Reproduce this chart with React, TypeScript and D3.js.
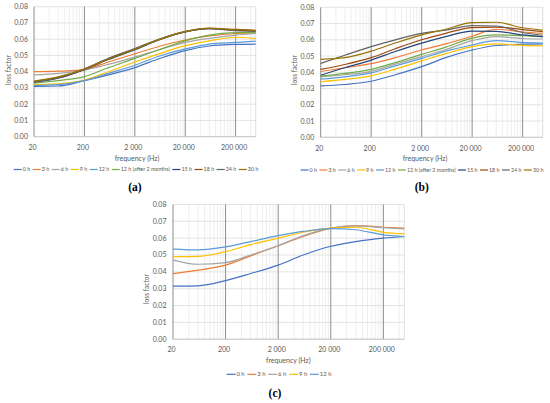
import React, { useEffect, useRef } from 'react';
import * as d3 from 'd3';

const FREQ = [20, 60, 200, 600, 2000, 6000, 20000, 60000, 200000, 500000];

const LABELS_AB = ['0 h', '3 h', '6 h', '9 h', '12 h', '12 h (after 2 months)', '15 h', '18 h', '24 h', '30 h'];
const LABELS_C = ['0 h', '3 h', '6 h', '9 h', '12 h'];
const COLORS = ['#4472C4', '#ED7D31', '#A5A5A5', '#FFC000', '#5B9BD5', '#70AD47', '#264478', '#9E480E', '#636363', '#997300'];

const X_TICKS = [20, 200, 2000, 20000, 200000];
const Y_TICKS = [0, 0.01, 0.02, 0.03, 0.04, 0.05, 0.06, 0.07, 0.08];

// panel (a)
const A_0h = [0.031, 0.0312, 0.0345, 0.038, 0.0425, 0.048, 0.053, 0.0558, 0.0568, 0.057];
const A_3h = [0.040, 0.0403, 0.0413, 0.046, 0.051, 0.0555, 0.0595, 0.062, 0.0635, 0.0638];
const A_6h = [0.038, 0.039, 0.041, 0.0445, 0.049, 0.0535, 0.058, 0.0605, 0.0625, 0.0635];
const A_9h = [0.032, 0.0325, 0.0348, 0.040, 0.046, 0.051, 0.056, 0.059, 0.0612, 0.0603];
const A_12h = [0.0315, 0.032, 0.0345, 0.039, 0.044, 0.0495, 0.054, 0.057, 0.058, 0.0588];
const A_12h2m = [0.033, 0.0345, 0.037, 0.0425, 0.0482, 0.0535, 0.059, 0.0625, 0.064, 0.0642];
const A_15h = [0.0335, 0.036, 0.0413, 0.0475, 0.0535, 0.0595, 0.0645, 0.0665, 0.0655, 0.065];
const A_18h = [0.034, 0.0365, 0.0415, 0.048, 0.054, 0.0598, 0.0648, 0.0667, 0.066, 0.0655];
const A_24h = [0.0338, 0.0362, 0.0418, 0.0482, 0.0542, 0.060, 0.0645, 0.0665, 0.0652, 0.0648];
const A_30h = [0.0342, 0.0368, 0.0416, 0.0478, 0.0538, 0.0597, 0.0647, 0.0668, 0.0658, 0.0653];

// panel (b)
const B_0h = [0.0316, 0.0325, 0.0345, 0.0385, 0.0435, 0.049, 0.0537, 0.0565, 0.0573, 0.0575];
const B_3h = [0.0405, 0.0428, 0.0453, 0.049, 0.0537, 0.0575, 0.0622, 0.0665, 0.0648, 0.064];
const B_6h = [0.0372, 0.0385, 0.0406, 0.045, 0.0496, 0.054, 0.0595, 0.062, 0.0608, 0.0605];
const B_9h = [0.0342, 0.0356, 0.0378, 0.042, 0.047, 0.0515, 0.0558, 0.0575, 0.0566, 0.0563];
const B_12h = [0.0358, 0.0372, 0.0396, 0.044, 0.0486, 0.053, 0.0568, 0.0595, 0.0584, 0.058];
const B_12h2m = [0.0376, 0.0393, 0.0418, 0.046, 0.051, 0.0555, 0.061, 0.063, 0.0625, 0.062];
const B_15h = [0.0382, 0.0428, 0.0475, 0.0528, 0.058, 0.062, 0.0654, 0.0652, 0.063, 0.062];
const B_18h = [0.0418, 0.0448, 0.049, 0.0545, 0.060, 0.064, 0.0675, 0.0678, 0.0663, 0.065];
const B_24h = [0.0455, 0.0505, 0.0558, 0.060, 0.064, 0.066, 0.0687, 0.0685, 0.0645, 0.0628];
const B_30h = [0.048, 0.049, 0.053, 0.058, 0.063, 0.0665, 0.0706, 0.0708, 0.0674, 0.066];

// panel (c)
const C_0h = [0.0315, 0.0317, 0.0348, 0.039, 0.044, 0.050, 0.0552, 0.058, 0.060, 0.061];
const C_3h = [0.039, 0.041, 0.044, 0.0495, 0.0555, 0.061, 0.066, 0.0675, 0.0665, 0.066];
const C_6h = [0.047, 0.0445, 0.0455, 0.050, 0.0555, 0.0615, 0.066, 0.0673, 0.0662, 0.0655];
const C_9h = [0.049, 0.0492, 0.052, 0.0562, 0.060, 0.0635, 0.066, 0.0665, 0.0635, 0.0625];
const C_12h = [0.0535, 0.053, 0.0548, 0.058, 0.0615, 0.064, 0.0657, 0.065, 0.062, 0.061];

const SERIES_A = [A_0h, A_3h, A_6h, A_9h, A_12h, A_12h2m, A_15h, A_18h, A_24h, A_30h];
const SERIES_B = [B_0h, B_3h, B_6h, B_9h, B_12h, B_12h2m, B_15h, B_18h, B_24h, B_30h];
const SERIES_C = [C_0h, C_3h, C_6h, C_9h, C_12h];

interface Panel {
  series: number[][];
  labels: string[];
  caption: string;
  left: number; right: number; top: number; bottom: number;
  yTickX: number; yTitleX: number; yTitleY: number;
  xTickY: number; xTitleX: number; xTitleY: number;
  legendX: number; legendY: number; legendW: number;
  captionX: number; captionY: number;
}

const PANELS: Panel[] = [
  {
    series: SERIES_A, labels: LABELS_AB, caption: '(a)',
    left: 34, right: 255.7, top: 6.7, bottom: 136.7,
    yTickX: 28, yTitleX: 8.5, yTitleY: 70,
    xTickY: 147.7, xTitleX: 137, xTitleY: 158.3,
    legendX: 136, legendY: 169.5, legendW: 244,
    captionX: 135, captionY: 186.5,
  },
  {
    series: SERIES_B, labels: LABELS_AB, caption: '(b)',
    left: 320.7, right: 542.7, top: 7.3, bottom: 137.3,
    yTickX: 314.3, yTitleX: 294.5, yTitleY: 70,
    xTickY: 148.3, xTitleX: 425, xTitleY: 158.8,
    legendX: 422, legendY: 170, legendW: 242,
    captionX: 421.7, captionY: 186.5,
  },
  {
    series: SERIES_C, labels: LABELS_C, caption: '(c)',
    left: 173, right: 404.3, top: 204.5, bottom: 339.2,
    yTickX: 166.5, yTitleX: 146.5, yTitleY: 289,
    xTickY: 350, xTitleX: 288.3, xTitleY: 360.5,
    legendX: 279, legendY: 374.3, legendW: 105,
    captionX: 275, captionY: 393,
  },
];

const FONT = 'Lato, "Open Sans", sans-serif';

const App: React.FC = () => {
  const ref = useRef<SVGSVGElement | null>(null);

  useEffect(() => {
    if (!ref.current) return;
    const svg = d3.select(ref.current);
    svg.selectAll('*').remove();

    const fmtX = (v: number) => d3.format(',')(v).replace(/,/g, ' ');
    const fmtY = d3.format('.2f');

    PANELS.forEach((p) => {
      const g = svg.append('g');
      const x = d3.scaleLog().domain([20, 500000]).range([p.left, p.right]);
      const y = d3.scaleLinear().domain([0, 0.08]).range([p.bottom, p.top]);

      // horizontal gridlines
      g.selectAll('line.hgrid')
        .data(Y_TICKS)
        .enter()
        .append('line')
        .attr('x1', p.left).attr('x2', p.right)
        .attr('y1', (d) => y(d)).attr('y2', (d) => y(d))
        .attr('stroke', '#d9d9d9')
        .attr('stroke-width', 0.7);

      // minor vertical gridlines (2..9 x each major)
      const minors: number[] = [];
      X_TICKS.forEach((m) => {
        for (let k = 2; k <= 9; k++) {
          if (m * k < 500000) minors.push(m * k);
        }
      });
      g.selectAll('line.minor')
        .data(minors)
        .enter()
        .append('line')
        .attr('x1', (d) => x(d)).attr('x2', (d) => x(d))
        .attr('y1', p.top).attr('y2', p.bottom)
        .attr('stroke', '#e3e3e3')
        .attr('stroke-width', 0.6);

      // right border
      g.append('line')
        .attr('x1', p.right).attr('x2', p.right)
        .attr('y1', p.top).attr('y2', p.bottom)
        .attr('stroke', '#d0d0d0')
        .attr('stroke-width', 0.7);

      // major vertical gridlines
      g.selectAll('line.major')
        .data(X_TICKS)
        .enter()
        .append('line')
        .attr('x1', (d) => x(d)).attr('x2', (d) => x(d))
        .attr('y1', p.top).attr('y2', p.bottom)
        .attr('stroke', '#8c8c8c')
        .attr('stroke-width', 1);

      // bottom axis line
      g.append('line')
        .attr('x1', p.left).attr('x2', p.right)
        .attr('y1', p.bottom).attr('y2', p.bottom)
        .attr('stroke', '#bfbfbf')
        .attr('stroke-width', 0.8);

      // series
      const line = d3.line<number>()
        .x((_, i) => x(FREQ[i]))
        .y((d) => y(d))
        .curve(d3.curveMonotoneX);

      p.series.forEach((s, i) => {
        g.append('path')
          .attr('d', line(s) as string)
          .attr('fill', 'none')
          .attr('stroke', COLORS[i])
          .attr('stroke-width', 1.2);
      });

      // y tick labels
      g.selectAll('text.ytick')
        .data(Y_TICKS)
        .enter()
        .append('text')
        .attr('x', p.yTickX)
        .attr('y', (d) => y(d))
        .attr('dy', '0.35em')
        .attr('text-anchor', 'end')
        .attr('font-family', FONT)
        .attr('font-size', 7)
        .attr('fill', '#595959')
        .text((d) => fmtY(d));

      // x tick labels
      g.selectAll('text.xtick')
        .data(X_TICKS)
        .enter()
        .append('text')
        .attr('x', (d) => x(d) - 1.5)
        .attr('y', p.xTickY)
        .attr('dy', '0.35em')
        .attr('text-anchor', 'middle')
        .attr('font-family', FONT)
        .attr('font-size', 7)
        .attr('fill', '#595959')
        .text((d) => fmtX(d));

      // axis titles
      g.append('text')
        .attr('x', p.xTitleX)
        .attr('y', p.xTitleY)
        .attr('dy', '0.35em')
        .attr('text-anchor', 'middle')
        .attr('font-family', FONT)
        .attr('font-size', 7)
        .attr('fill', '#595959')
        .text('frequency (Hz)');

      g.append('text')
        .attr('transform', `translate(${p.yTitleX}, ${p.yTitleY}) rotate(-90)`)
        .attr('dy', '0.35em')
        .attr('text-anchor', 'middle')
        .attr('font-family', FONT)
        .attr('font-size', 6.6)
        .attr('fill', '#595959')
        .text('loss factor');

      // legend: lay out once at a reference size, then rescale the font to the target width
      const legend = g.append('g');
      const layout = (fs: number) => {
        legend.selectAll('*').remove();
        const marker = fs * 1.5;
        const gap = fs * 0.45;
        let cursor = 0;
        p.labels.forEach((label, i) => {
          const row = legend.append('g').attr('transform', `translate(${cursor}, ${p.legendY})`);
          row.append('line')
            .attr('x1', 0).attr('x2', marker)
            .attr('y1', 0).attr('y2', 0)
            .attr('stroke', COLORS[i])
            .attr('stroke-width', 1.2);
          const t = row.append('text')
            .attr('x', marker + 1)
            .attr('dy', '0.35em')
            .attr('font-family', FONT)
            .attr('font-size', fs)
            .attr('fill', '#595959')
            .text(label);
          const w = (t.node() as SVGTextElement).getComputedTextLength();
          cursor += marker + 1 + w + gap;
        });
        return cursor - gap;
      };
      const base = 6;
      const w0 = layout(base);
      const fs = Math.min(7, base * (p.legendW / w0));
      const total = layout(fs);
      legend.attr('transform', `translate(${p.legendX - total / 2}, 0)`);

      // caption
      g.append('text')
        .attr('x', p.captionX)
        .attr('y', p.captionY)
        .attr('dy', '0.35em')
        .attr('text-anchor', 'middle')
        .attr('font-family', '"Liberation Serif", "DejaVu Serif", serif')
        .attr('font-weight', 'bold')
        .attr('font-size', 11.5)
        .attr('fill', '#000')
        .text(p.caption);
    });

    return () => {
      svg.selectAll('*').remove();
    };
  }, []);

  return (
    <div style={{ position: 'absolute', left: 0, top: 0, width: 550, height: 403, background: '#fff' }}>
      <svg ref={ref} width={550} height={403}></svg>
    </div>
  );
};

export default App;
